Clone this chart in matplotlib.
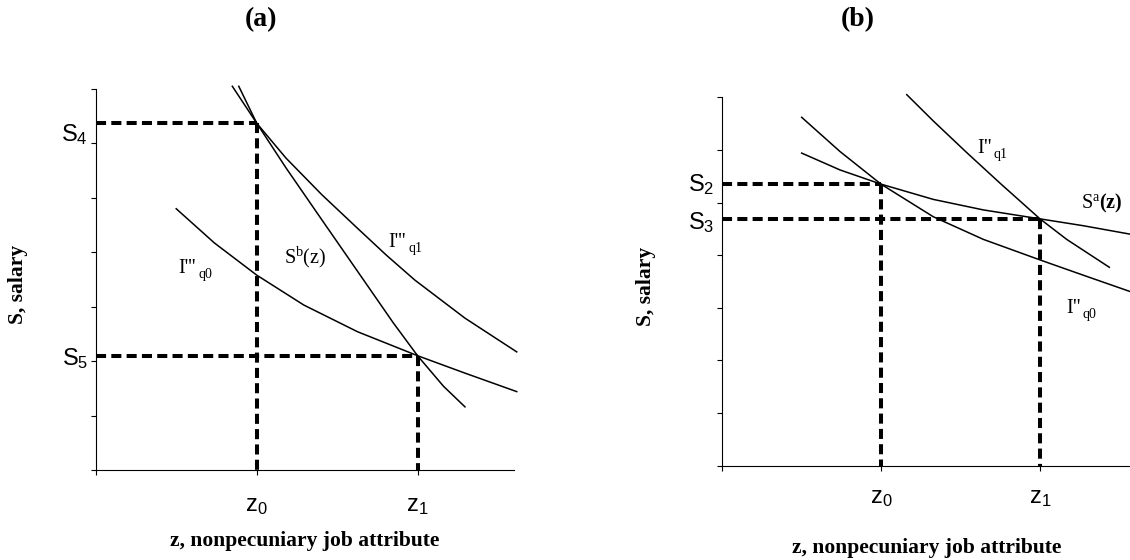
import matplotlib
matplotlib.use("Agg")
import matplotlib.pyplot as plt

plt.rcParams['mathtext.fontset'] = 'custom'
plt.rcParams['mathtext.rm'] = 'Liberation Serif'
plt.rcParams['mathtext.it'] = 'Liberation Serif:italic'
plt.rcParams['mathtext.bf'] = 'Liberation Serif:bold'
plt.rcParams['mathtext.sf'] = 'Liberation Sans'

# ---------------- data: panel (a) ----------------
a_Iq1_x = [0.888, 1.0, 1.182, 1.404, 1.627, 1.805, 1.983, 2.295, 2.617]
a_Iq1_y = [7.05, 6.37, 5.73, 5.06, 4.44, 3.95, 3.49, 2.79, 2.17]
a_Sb_x = [0.848, 1.0, 1.182, 1.404, 1.627, 1.850, 2.0, 2.161, 2.295]
a_Sb_y = [7.05, 6.37, 5.55, 4.60, 3.65, 2.70, 2.10, 1.54, 1.16]
a_Iq0_x = [0.499, 0.737, 1.0, 1.293, 1.627, 2.0, 2.295, 2.617]
a_Iq0_y = [4.80, 4.17, 3.58, 3.03, 2.54, 2.10, 1.78, 1.44]
a_z = [1.0, 2.0]            # z0, z1
a_S = [6.37, 2.10]          # S4, S5
a_S_labels = [r'$\mathsf{S_4}$', r'$\mathsf{S_5}$']
a_z_labels = [r'$\mathsf{z_0}$', r'$\mathsf{z_1}$']

# ---------------- data: panel (b) ----------------
b_Iq1_x = [1.162, 1.329, 1.539, 1.748, 2.0, 2.168, 2.436]
b_Iq1_y = [7.05, 6.55, 5.95, 5.37, 4.69, 4.30, 3.77]
b_Sa_x = [0.501, 0.742, 1.0, 1.329, 1.644, 2.0, 2.272, 2.566]
b_Sa_y = [5.94, 5.62, 5.35, 5.06, 4.86, 4.69, 4.56, 4.40]
b_Iq0_x = [0.501, 0.742, 1.0, 1.329, 1.644, 2.0, 2.272, 2.566]
b_Iq0_y = [6.62, 5.97, 5.35, 4.73, 4.30, 3.91, 3.62, 3.31]
b_z = [1.0, 2.0]
b_S = [5.35, 4.69]          # S2, S3
b_S_labels = [r'$\mathsf{S_2}$', r'$\mathsf{S_3}$']
b_z_labels = [r'$\mathsf{z_0}$', r'$\mathsf{z_1}$']

y_ticks = list(range(0, 8))
x_ticks = [0, 1, 2]

DASH = (0, (2.5, 1.3))
LAB_FS = 17


def style_axes(ax, xmax):
    ax.set_xlim(0, xmax)
    ax.set_ylim(0, 7)
    for s in ('top', 'right'):
        ax.spines[s].set_visible(False)
    for s in ('left', 'bottom'):
        ax.spines[s].set_linewidth(0.8)
    ax.set_yticks(y_ticks)
    ax.set_xticks(x_ticks)
    ax.set_yticklabels([])
    ax.set_xticklabels([])
    ax.tick_params(direction='out', length=3.6, width=0.8)


def sub_label(ax, x, y, main, sub, dx, fs=14.5):
    ax.text(x, y, main, fontsize=fs, family='Liberation Serif',
            ha='left', va='baseline')
    ax.annotate(sub, xy=(x, y), xytext=(dx, -3.8), textcoords='offset points',
                fontsize=10, family='Liberation Serif', ha='left', va='baseline')


fig = plt.figure(figsize=(11.3, 5.6), dpi=100)

# ---------------- panel (a) ----------------
axa = fig.add_axes([96 / 1130, 90 / 560, 418 / 1130, 381 / 560])
style_axes(axa, 2.6)
for xs, ys in ((a_Iq1_x, a_Iq1_y), (a_Sb_x, a_Sb_y), (a_Iq0_x, a_Iq0_y)):
    axa.plot(xs, ys, color='black', lw=1.1, clip_on=False)
for z, s in zip(a_z, a_S):
    axa.plot([0, z], [s, s], color='black', lw=2.9, ls=DASH, clip_on=False)
    axa.plot([z, z], [s, 0], color='black', lw=2.9, ls=DASH, clip_on=False)
axa.text(-0.05, a_S[0] - 0.2, a_S_labels[0], fontsize=LAB_FS, ha='right', va='center')
axa.text(-0.05, a_S[1] - 0.05, a_S_labels[1], fontsize=LAB_FS, ha='right', va='center')
for z, lab in zip(a_z, a_z_labels):
    axa.text(z, -0.64, lab, fontsize=LAB_FS, ha='center', va='center')
sub_label(axa, 0.51, 3.62, "I'''", 'q0', 14.6)
axa.text(1.17, 3.80, r'$\mathrm{S}^{\mathrm{b}}\mathrm{(z)}$', fontsize=14.5,
         ha='left', va='baseline')
sub_label(axa, 1.816, 4.10, "I'''", 'q1', 14.6)

# ---------------- panel (b) ----------------
axb = fig.add_axes([722 / 1130, 94.3 / 560, 408 / 1130, 368.4 / 560])
style_axes(axb, 408 / 159)
for xs, ys in ((b_Iq1_x, b_Iq1_y), (b_Sa_x, b_Sa_y), (b_Iq0_x, b_Iq0_y)):
    axb.plot(xs, ys, color='black', lw=1.1, clip_on=False)
for z, s in zip(b_z, b_S):
    axb.plot([0, z], [s, s], color='black', lw=2.9, ls=DASH, clip_on=False)
    axb.plot([z, z], [s, 0], color='black', lw=2.9, ls=DASH, clip_on=False)
axb.text(-0.05, b_S[0], b_S_labels[0], fontsize=LAB_FS, ha='right', va='center')
axb.text(-0.05, b_S[1] - 0.07, b_S_labels[1], fontsize=LAB_FS, ha='right', va='center')
for z, lab in zip(b_z, b_z_labels):
    axb.text(z, -0.59, lab, fontsize=LAB_FS, ha='center', va='center')
sub_label(axb, 1.604, 5.94, 'I"', 'q1', 11.8)
axb.text(2.256, 4.89, r'$\mathrm{S}^{\mathrm{a}}\mathbf{(z)}$', fontsize=14.5,
         ha='left', va='baseline')
sub_label(axb, 2.166, 2.90, 'I"', 'q0', 11.8)

# ---------------- titles & axis labels ----------------
fig.text(261 / 1130, 1 - 20 / 560, '(a)', fontsize=20, fontweight='bold',
         family='Liberation Serif', ha='center', va='center')
fig.text(858 / 1130, 1 - 20 / 560, '(b)', fontsize=20, fontweight='bold',
         family='Liberation Serif', ha='center', va='center')
fig.text(305 / 1130, 1 - 541 / 560, 'z, nonpecuniary job attribute', fontsize=15.5,
         fontweight='bold', family='Liberation Serif', ha='center', va='center')
fig.text(927 / 1130, 1 - 548 / 560, 'z, nonpecuniary job attribute', fontsize=15.5,
         fontweight='bold', family='Liberation Serif', ha='center', va='center')
fig.text(18 / 1130, 1 - 284 / 560, 'S, salary', fontsize=15.5, fontweight='bold',
         family='Liberation Serif', ha='center', va='center', rotation=90)
fig.text(646 / 1130, 1 - 286 / 560, 'S, salary', fontsize=15.5, fontweight='bold',
         family='Liberation Serif', ha='center', va='center', rotation=90)

fig.savefig('out.png', dpi=100)
